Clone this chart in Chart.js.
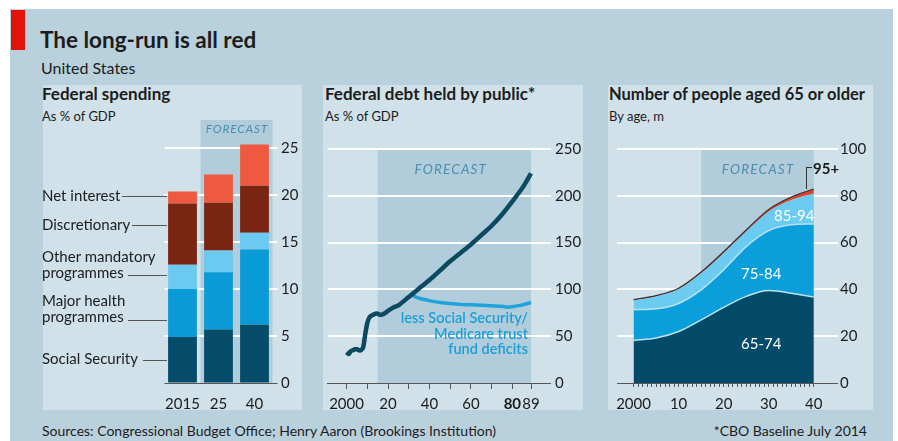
<!DOCTYPE html>
<html lang="en">
<head>
<meta charset="UTF-8">
<title>The long-run is all red</title>
<script src="https://cdn.jsdelivr.net/npm/chart.js"></script>
<style>
    body { margin: 0; width: 898px; height: 441px; background: #fff; position: relative; overflow: hidden;
           font-family: Lato, "Open Sans", sans-serif; color: #1c1c1c; }
    .abs { position: absolute; white-space: nowrap; line-height: 1; }
    #frame { left: 10px; top: 9px; width: 883px; height: 432px; background: #b9d1dd; }
    #tag { left: 11px; top: 10px; width: 14px; height: 40px; background: #e3120b; }
    .panel { top: 85px; height: 325px; background: #d0e1e9; }
    .title { font-size: 17px; font-weight: bold; }
    .sub { font-size: 13px; }
    .lbl { font-size: 15px; line-height: 16px; }
    .lead { height: 1px; background: #555; }
    canvas { position: absolute; top: 85px; }
</style>
</head>
<body>
    <div class="abs" id="frame"></div>
    <div class="abs" id="tag"></div>
    <div class="abs" style="left:40px; top:29px; font-size:22.5px; font-weight:bold;">The long-run is all red</div>
    <div class="abs" style="left:41px; top:60px; font-size:16px;">United States</div>

    <div class="abs panel" style="left:43px; width:259px;"></div>
    <div class="abs panel" style="left:323px; width:260px;"></div>
    <div class="abs panel" style="left:608px; width:265px;"></div>

    <!-- panel titles -->
    <div class="abs title" style="left:42px; top:85px;">Federal spending</div>
    <div class="abs sub" style="left:42px; top:109.5px;">As % of GDP</div>
    <div class="abs title" style="left:325px; top:85px;">Federal debt held by public*</div>
    <div class="abs sub" style="left:325px; top:109.5px;">As % of GDP</div>
    <div class="abs title" style="left:609px; top:85.5px; font-size:16.5px;">Number of people aged 65 or older</div>
    <div class="abs sub" style="left:609px; top:109.5px;">By age, m</div>

    <canvas id="spend" width="259" height="325" style="left:43px;"></canvas>
    <canvas id="debt" width="260" height="325" style="left:323px;"></canvas>
    <canvas id="ages" width="265" height="325" style="left:608px;"></canvas>

    <!-- spending labels -->
    <div class="abs lbl" style="left:42px; top:187px;">Net interest</div>
    <div class="abs lead" style="left:122px; top:196px; width:45px;"></div>
    <div class="abs lbl" style="left:42px; top:216px;">Discretionary</div>
    <div class="abs lead" style="left:132px; top:225px; width:35px;"></div>
    <div class="abs lbl" style="left:42px; top:248px;">Other mandatory<br>programmes</div>
    <div class="abs lead" style="left:128px; top:275px; width:39px;"></div>
    <div class="abs lbl" style="left:42px; top:292px;">Major health<br>programmes</div>
    <div class="abs lead" style="left:128px; top:320px; width:39px;"></div>
    <div class="abs lbl" style="left:42px; top:350px;">Social Security</div>
    <div class="abs lead" style="left:143px; top:360px; width:24px;"></div>

    <!-- debt annotation -->
    <div class="abs" style="right:370px; top:310px; font-size:14.5px; line-height:15.5px; font-weight:600; color:#1b9fd7; text-align:right;">less Social Security/<br>Medicare trust<br>fund deficits</div>

    <!-- age labels -->
    <div class="abs" style="left:741px; top:336px; font-size:15px; color:#fff;">65-74</div>
    <div class="abs" style="left:741px; top:266px; font-size:15px; color:#fff;">75-84</div>
    <div class="abs" style="left:774px; top:208px; font-size:15px; color:#fff;">85-94</div>
    <div class="abs" style="left:813px; top:161px; font-size:15px; font-weight:bold;">95+</div>
    <div class="abs" style="left:806px; top:167px; width:5px; height:21px; border-left:1px solid #333; border-top:1px solid #333;"></div>

    <div class="abs" style="left:42px; top:423.5px; font-size:14px;">Sources: Congressional Budget Office; Henry Aaron (Brookings Institution)</div>
    <div class="abs" style="right:31px; top:423.5px; font-size:14px;">*CBO Baseline July 2014</div>

<script>
    // Federal spending, % of GDP
    const spendCats = ['2015', '25', '40'];
    const socialSecurity = [4.9, 5.7, 6.2];
    const majorHealth = [5.1, 6.1, 8.0];
    const otherMandatory = [2.6, 2.3, 1.8];
    const discretionary = [6.5, 5.1, 5.0];
    const netInterest = [1.3, 3.0, 4.4];
    const spendTicks = [0, 5, 10, 15, 20, 25];

    // Federal debt held by public, % of GDP
    const debtYears = [2000, 2001, 2002, 2003, 2004, 2005, 2006, 2007, 2008, 2009, 2010, 2011, 2012, 2013, 2014,
                       2015, 2016, 2017, 2018, 2020, 2022, 2025, 2030, 2035, 2040, 2045, 2050, 2055, 2060, 2065,
                       2070, 2075, 2080, 2085, 2089];
    const debtTotal = [33, 31, 34, 35, 36, 36, 35, 35, 38, 52, 64, 70, 72, 73, 74,
                       74, 73, 73, 74, 77, 80, 83, 92, 101, 110, 120, 130, 139, 148, 158,
                       168, 180, 194, 209, 224];
    const lessYears = [2032, 2035, 2040, 2045, 2050, 2055, 2060, 2065, 2070, 2075, 2078, 2080, 2085, 2089];
    const debtLess = [93, 90.5, 88, 86, 85, 84, 83.5, 83, 82.5, 82, 81, 81.5, 83.5, 86];
    const debtTicks = [0, 50, 100, 150, 200, 250];
    const debtXTicks = [2000, 2010, 2020, 2030, 2040, 2050, 2060, 2070, 2080, 2089];
    const debtXLabels = ['2000', '', '20', '', '40', '', '60', '', '80', '89'];

    // People aged 65+, millions
    const ageYears = [2000, 2005, 2010, 2015, 2020, 2025, 2030, 2035, 2040];
    const age65to74 = [18.2, 19.2, 22.0, 27.0, 32.3, 37.0, 39.5, 38.4, 36.7];
    const age75to84 = [13.1, 12.5, 12.0, 12.8, 16.1, 21.3, 25.6, 29.2, 31.3];
    const age85to94 = [4.0, 5.3, 6.1, 7.1, 7.1, 6.4, 8.2, 10.6, 13.0];
    const age95plus = [0.3, 0.35, 0.4, 0.5, 0.6, 0.7, 0.9, 1.3, 1.9];
    const ageTicks = [0, 20, 40, 60, 80, 100];
    const ageXLabelYears = [2000, 2010, 2020, 2030, 2040];
    const ageXLabels = ['2000', '10', '20', '30', '40'];

    Chart.defaults.font.family = 'Lato, "Open Sans", sans-serif';
    Chart.defaults.color = '#1c1c1c';
    Chart.defaults.animation = false;

    // shaded forecast band with its label
    const forecastShade = {
        id: 'forecastShade',
        beforeDraw(chart, args, opts) {
            const ctx = chart.ctx, area = chart.chartArea, x = chart.scales.x;
            const x0 = x.getPixelForValue(opts.from), x1 = x.getPixelForValue(opts.to);
            ctx.save();
            ctx.fillStyle = '#b1cddb';
            ctx.fillRect(x0, area.top, x1 - x0, area.bottom - area.top);
            ctx.font = 'italic ' + opts.size + 'px Lato';
            ctx.letterSpacing = opts.spacing + 'px';
            ctx.fillStyle = '#4d8daf';
            ctx.textAlign = 'center';
            ctx.textBaseline = 'middle';
            const cx = opts.at !== undefined ? x.getPixelForValue(opts.at) : (x0 + x1) / 2;
            ctx.fillText('FORECAST', cx + opts.spacing / 2, area.top + opts.dy);
            ctx.restore();
        }
    };

    function yGrid(tickLen) {
        return {
            color: c => c.tick && c.tick.value === 0 ? '#555' : '#ffffff',
            lineWidth: c => c.tick && c.tick.value === 0 ? 1 : 2,
            tickLength: tickLen
        };
    }
    const tickFont = { size: 15 };

    new Chart(document.getElementById('spend'), {
        type: 'bar',
        plugins: [forecastShade],
        data: {
            labels: spendCats,
            datasets: [
                { label: 'Social Security', data: socialSecurity, backgroundColor: '#044c6a' },
                { label: 'Major health programmes', data: majorHealth, backgroundColor: '#0a9bd6' },
                { label: 'Other mandatory programmes', data: otherMandatory, backgroundColor: '#6cc9ef' },
                { label: 'Discretionary', data: discretionary, backgroundColor: '#7a2512' },
                { label: 'Net interest', data: netInterest, backgroundColor: '#ee5a3f' }
            ]
        },
        options: {
            responsive: false,
            layout: { padding: { left: 121.5, top: 35, right: 0, bottom: 0 } },
            barPercentage: 0.8,
            categoryPercentage: 1,
            plugins: {
                legend: { display: false }, tooltip: { enabled: false },
                forecastShade: { from: 0.5, to: 2.5, size: 12, spacing: 0.8, dy: 9 }
            },
            scales: {
                x: {
                    stacked: true,
                    grid: { display: false, drawTicks: false },
                    border: { display: false },
                    ticks: { font: tickFont, padding: 12, maxRotation: 0, autoSkip: false },
                    afterFit: s => { s.height = 27; }
                },
                y: {
                    stacked: true, position: 'right', min: 0, max: 28,
                    afterBuildTicks: s => { s.ticks = spendTicks.map(v => ({ value: v })); },
                    grid: yGrid(5),
                    border: { display: false },
                    ticks: { font: tickFont, padding: 3.5 },
                    afterFit: s => { s.width = 29.5; }
                }
            }
        }
    });

    new Chart(document.getElementById('debt'), {
        type: 'line',
        plugins: [forecastShade],
        data: {
            datasets: [
                { label: 'Total', data: debtYears.map((yr, i) => ({ x: yr, y: debtTotal[i] })),
                  borderColor: '#0c4a62', borderWidth: 4.5, pointRadius: 0, tension: 0.3 },
                { label: 'less Social Security/Medicare trust fund deficits',
                  data: lessYears.map((yr, i) => ({ x: yr, y: debtLess[i] })),
                  borderColor: '#1fa3da', borderWidth: 3.5, pointRadius: 0, tension: 0.3 }
            ]
        },
        options: {
            responsive: false,
            layout: { padding: { left: 2, top: 64, right: 0, bottom: 0 } },
            plugins: {
                legend: { display: false }, tooltip: { enabled: false },
                forecastShade: { from: 2015, to: 2089, at: 2050, size: 13.5, spacing: 1.2, dy: 21 }
            },
            scales: {
                x: {
                    type: 'linear', min: 1990.9, max: 2097.2,
                    afterBuildTicks: s => { s.ticks = debtXTicks.map(v => ({ value: v })); },
                    grid: { drawOnChartArea: false, tickLength: 6, color: '#555' },
                    border: { color: '#555' },
                    ticks: {
                        padding: 6, maxRotation: 0, autoSkip: false,
                        callback: (v, i) => debtXLabels[i],
                        font: c => ({ size: 15, weight: c.tick && c.tick.value === 2080 ? 'bold' : 'normal' })
                    },
                    afterFit: s => { s.height = 27; }
                },
                y: {
                    position: 'right', min: 0, max: 250,
                    afterBuildTicks: s => { s.ticks = debtTicks.map(v => ({ value: v })); },
                    grid: yGrid(3),
                    border: { display: false },
                    ticks: { font: tickFont, padding: 4 },
                    afterFit: s => { s.width = 35; }
                }
            }
        }
    });

    const ageXTicks = [];
    for (let yr = ageYears[0]; yr <= ageYears[ageYears.length - 1]; yr++) ageXTicks.push(yr);
    const agePoints = arr => ageYears.map((yr, i) => ({ x: yr, y: arr[i] }));

    new Chart(document.getElementById('ages'), {
        type: 'line',
        plugins: [forecastShade],
        data: {
            datasets: [
                { label: '65-74', data: agePoints(age65to74), fill: 'origin', backgroundColor: '#034b69',
                  borderColor: '#b9e2f3', borderWidth: 1.5 },
                { label: '75-84', data: agePoints(age75to84), fill: '-1', backgroundColor: '#0a9fda',
                  borderColor: '#b9e2f3', borderWidth: 1.5 },
                { label: '85-94', data: agePoints(age85to94), fill: '-1', backgroundColor: '#6ccbf0',
                  borderColor: '#6ccbf0', borderWidth: 0 },
                { label: '95+', data: agePoints(age95plus), fill: '-1', backgroundColor: '#e1402a',
                  borderColor: '#333', borderWidth: 1.2 }
            ]
        },
        options: {
            responsive: false,
            layout: { padding: { left: 2, top: 64, right: 0, bottom: 0 } },
            elements: { point: { radius: 0 }, line: { cubicInterpolationMode: 'monotone' } },
            plugins: {
                legend: { display: false }, tooltip: { enabled: false },
                forecastShade: { from: 2015, to: 2040, size: 13.5, spacing: 1.2, dy: 21 }
            },
            scales: {
                x: {
                    type: 'linear', min: 1996.35, max: 2044.7,
                    afterBuildTicks: s => { s.ticks = ageXTicks.map(v => ({ value: v })); },
                    grid: { drawOnChartArea: false, tickLength: 4, color: '#555' },
                    border: { color: '#555' },
                    ticks: {
                        font: tickFont, padding: 8, maxRotation: 0, autoSkip: false,
                        callback: v => { const k = ageXLabelYears.indexOf(v); return k >= 0 ? ageXLabels[k] : ''; }
                    },
                    afterFit: s => { s.height = 27; }
                },
                y: {
                    stacked: true, position: 'right', min: 0, max: 100,
                    afterBuildTicks: s => { s.ticks = ageTicks.map(v => ({ value: v })); },
                    grid: yGrid(3),
                    border: { display: false },
                    ticks: { font: tickFont, padding: 2 },
                    afterFit: s => { s.width = 38; }
                }
            }
        }
    });
</script>
</body>
</html>
